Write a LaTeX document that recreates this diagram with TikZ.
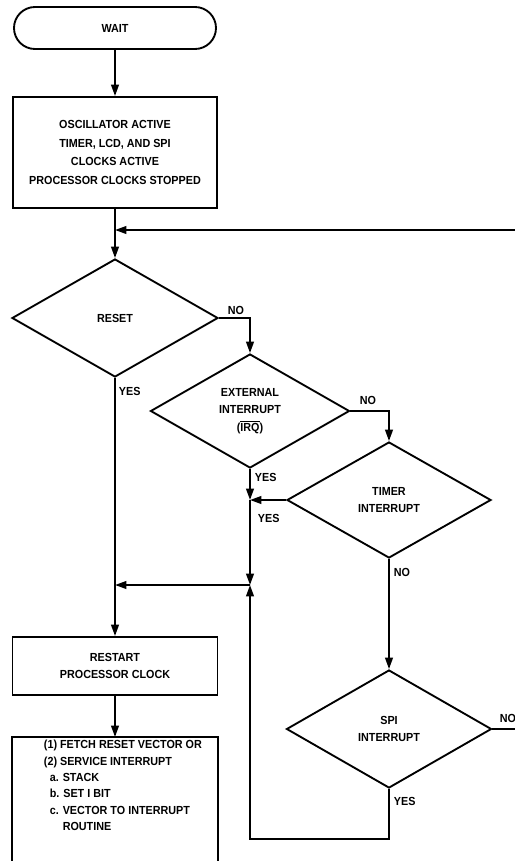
\documentclass[tikz,border=0pt]{standalone}
\usepackage{fontspec}
\setmainfont[FakeStretch=0.92]{Liberation Sans}
\usetikzlibrary{shapes,arrows.meta,positioning,calc}

\begin{document}
\begin{tikzpicture}[x=0.03cm, y=-0.03cm, line width=1.6pt,
  every node/.style={font=\fontsize{10}{15}\selectfont\bfseries},
  term/.style={rectangle, rounded corners=0.63cm, draw, minimum width=6.06cm, minimum height=1.26cm},
  proc/.style={rectangle, draw, align=center, inner sep=0pt},
  dec/.style={diamond, draw, align=center, inner sep=0pt},
  lbl/.style={anchor=west, inner sep=0pt},
  arr/.style={-{Triangle[length=3.4mm, width=2.3mm]}}
]
  \useasboundingbox (0,0) rectangle (515,861);
  % left column
  \node[term] (wait) at (115,28) {WAIT};
  \node[proc, minimum width=6.12cm, minimum height=3.33cm, font=\fontsize{10}{16}\selectfont\bfseries] (osc) at (115,152.5)
    {OSCILLATOR ACTIVE\\TIMER, LCD, AND SPI\\CLOCKS ACTIVE\\PROCESSOR CLOCKS STOPPED};
  \coordinate (loop) at (115,230);
  \coordinate (loopin) at (515,230);
  \node[dec, minimum width=6.18cm, minimum height=3.54cm] (reset) at (115,318) {RESET};
  \node[proc, minimum width=6.15cm, minimum height=1.74cm] (restart) at (115,666) {RESTART\\PROCESSOR CLOCK};
  % service box, open at the bottom
  \coordinate (svctop) at (115,737);
  \coordinate (svcbl) at (12,861);
  \coordinate (svcbr) at (218,861);
  \node[anchor=north west, inner xsep=0pt, inner ysep=2pt, align=left, font=\fontsize{10}{14}\selectfont\bfseries] (svc) at (43,737)
    {(1) FETCH RESET VECTOR OR\\
     (2) SERVICE INTERRUPT\\
     \hspace*{5pt}a. STACK\\
     \hspace*{5pt}b. SET I BIT\\
     \hspace*{5pt}c. VECTOR TO INTERRUPT\\
     \hspace*{5pt}\phantom{c. }ROUTINE};
  % interrupt checks
  \node[dec, minimum width=5.97cm, minimum height=3.42cm] (ext) at (250,411) {EXTERNAL\\INTERRUPT\\($\overline{\hbox{IRQ}}$)};
  \node[dec, minimum width=6.12cm, minimum height=3.48cm] (timer) at (389,500) {TIMER\\INTERRUPT};
  \node[dec, minimum width=6.15cm, minimum height=3.54cm] (spi) at (389,729) {SPI\\INTERRUPT};
  \coordinate (ja) at (ext.south |- timer.west);
  \coordinate (jb) at (250,585);
  \coordinate (jc) at (reset.south |- jb);
  \coordinate (spiloop) at (389,839);
  \coordinate (spiout) at (spi.east -| loopin);
  % connectors
  \draw[arr] (wait) -- (osc);
  \draw (osc) -- (loop);
  \draw[arr] (loopin) -- (loop);
  \draw[arr] (loop) -- (reset);
  \draw[arr] (reset.east) -| (ext.north);
  \draw[arr] (ext.east) -| (timer.north);
  \draw[arr] (ext.south) -- (ja);
  \draw[arr] (timer.west) -- (ja);
  \draw[arr] (ja) -- (jb);
  \draw[arr] (jb) -- (jc);
  \draw[arr] (reset.south) -- (restart.north);
  \draw[arr] (timer.south) -- (spi.north);
  \draw[arr] (spi.south) -- (spiloop) -| (jb);
  \draw (spi.east) -- (spiout);
  \draw[arr] (restart.south) -- (svctop);
  \draw (svcbl) |- (svctop) -| (svcbr);
  % yes / no
  \node[lbl] (noreset) at (227,310) {NO};
  \node[lbl] (yesreset) at (118,391) {YES};
  \node[lbl] (noext) at (359,400) {NO};
  \node[lbl] (yesext) at (254,477) {YES};
  \node[lbl] (yestimer) at (257,518) {YES};
  \node[lbl] (notimer) at (393,572) {NO};
  \node[lbl] (nospi) at (499,718) {NO};
  \node[lbl] (yesspi) at (393,801) {YES};
\end{tikzpicture}
\end{document}
